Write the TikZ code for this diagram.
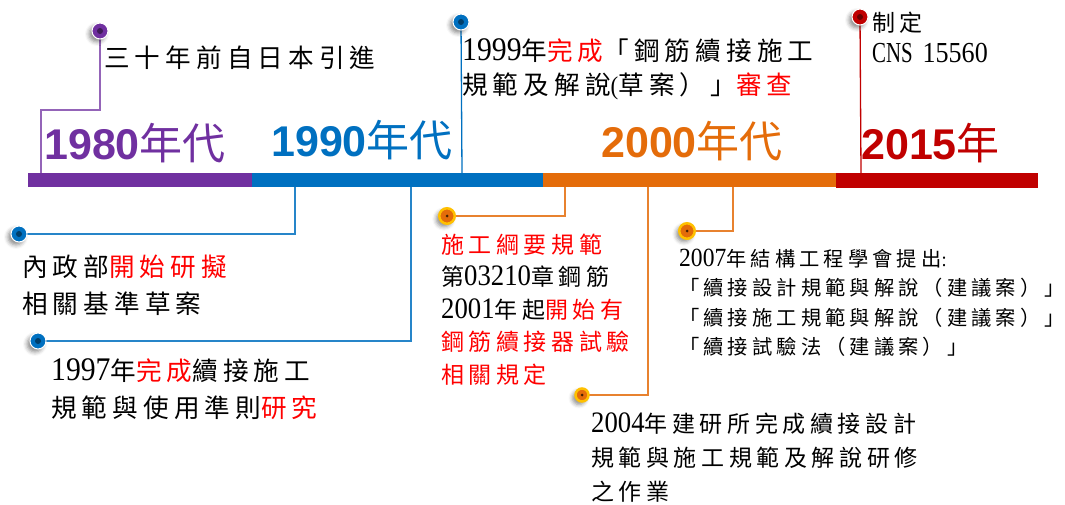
\documentclass[tikz,border=0pt]{standalone}
\usepackage{fontspec}
\setmainfont{Liberation Serif}
\newfontfamily\cjk[LetterSpace=20]{Noto Sans CJK TC}
\newfontfamily\cjkplain{Noto Sans CJK TC}
\newfontfamily\lat[FakeStretch=0.9]{Liberation Serif}
\newfontfamily\latc[FakeStretch=0.72]{Liberation Serif}
\newfontfamily\yearsans{Liberation Sans}
\usetikzlibrary{shadows.blur,backgrounds}
\definecolor{cpurple}{HTML}{7030A0}
\definecolor{cblue}{HTML}{0070C0}
\definecolor{corange}{HTML}{E46C0A}
\definecolor{cred}{HTML}{C00000}
\definecolor{cgold}{HTML}{FFC000}
\definecolor{hl}{HTML}{FF0000}
\newcommand\hi[1]{{\color{hl}#1}}
\newcommand\da[1]{{\fontsize{33}{33}\lat #1}}
\newcommand\db[1]{{\fontsize{29.7}{29.7}\lat #1}}
\newcommand\dc[1]{{\fontsize{26.2}{26.2}\lat #1}}
\begin{document}
\begin{tikzpicture}[x=1pt,y=-1pt,
  bar/.style={rectangle,inner sep=0pt,minimum height=14pt,draw=none},
  yearlbl/.style={anchor=base west,inner sep=0pt,font=\fontsize{43}{43}\selectfont},
  shd/.style={blur shadow={shadow xshift=-3pt,shadow yshift=-3pt,shadow blur radius=4pt,shadow opacity=45}},
  evdot/.style={circle,inner sep=0pt,minimum size=16pt,draw=white,line width=1pt,fill=#1,shd,
     path picture={\fill[black!45!#1] (path picture bounding box.center) circle (3);}},
  odot/.style={circle,inner sep=0pt,minimum size=#1,draw=cgold,line width=2.5pt,fill=corange,shd,
     path picture={\fill[black!70!corange] (path picture bounding box.center) circle (1.5);}},
  txtA/.style={anchor=base west,inner sep=0pt,align=left,font=\fontsize{25.6}{#1}\cjk},
  txtB/.style={anchor=base west,inner sep=0pt,align=left,font=\fontsize{23}{#1}\cjk},
  txtC/.style={anchor=base west,inner sep=0pt,align=left,font=\fontsize{20.3}{#1}\cjk},
  cline/.style={line width=1.3pt,draw=#1}
]
\useasboundingbox (0,0) rectangle (1065,505);
% timeline bars
\node[bar,fill=cpurple,minimum width=224pt] (bar1) at (140,180) {};
\node[bar,fill=cblue,minimum width=291pt] (bar2) at (397.5,180) {};
\node[bar,fill=corange,minimum width=293pt] (bar3) at (689.5,180) {};
\node[bar,fill=cred,minimum width=202pt,minimum height=15pt] (bar4) at (937,180.5) {};
% era labels
\node[yearlbl,text=cpurple] (y80) at (44,160) {{\yearsans\bfseries 1980}{\cjkplain 年代}};
\node[yearlbl,text=cblue] (y90) at (271,157) {{\yearsans\bfseries 1990}{\cjkplain 年代}};
\node[yearlbl,text=corange] (y00) at (601,158) {{\yearsans\bfseries 2000}{\cjkplain 年代}};
\node[yearlbl,text=cred] (y15) at (861,160) {{\yearsans\bfseries 2015}{\cjkplain 年}};
% connector ends on the bar
\coordinate (a1) at (41,173);
\coordinate (a2) at (462,173);
\coordinate (a3) at (861,173);
\coordinate (b1) at (295,187);
\coordinate (b2) at (411,187);
\coordinate (b3) at (565,187);
\coordinate (b4) at (648,187);
\coordinate (b5) at (733,187);
% event dots
\node[evdot=cpurple] (d1) at (100,31) {};
\node[evdot=cblue] (d2) at (461,22) {};
\node[evdot=cred] (d3) at (860,17) {};
\node[evdot=cblue] (d4) at (19,234) {};
\node[evdot=cblue] (d5) at (38,341) {};
\node[odot=15.5pt] (d6) at (447,216) {};
\node[odot=13pt] (d7) at (582,395) {};
\node[odot=15.5pt] (d8) at (687,231) {};
% connectors
\begin{pgfonlayer}{background}
\draw[cline=cpurple!75!white] (d1.center) -- ++(0,79) -| (a1);
\draw[cline=cblue] (d2.center) -- (a2);
\draw[cline=cred] (d3.center) -- (a3);
\draw[cline=cblue!85!white] (b1) |- (d4.center);
\draw[cline=cblue!85!white] (b2) |- (d5.center);
\draw[cline=corange!85!white] (b3) |- (d6.center);
\draw[cline=corange!85!white] (b4) |- (d7.center);
\draw[cline=corange!85!white] (b5) |- (d8.center);
\end{pgfonlayer}
% texts (anchored at the baseline of the last line)
\node[txtA=34] (t1) at (104,68) {三十年前自日本引進};
\node[txtA=34] (t2) at (462,95) {\da{1999}年\hi{完成}「鋼筋續接施工\\規範及解說{\lat (}草案）」\hi{審查}};
\node[txtB=31] (t3) at (872,63) {制定\\{\fontsize{29}{29}\latc CNS} {\fontsize{29}{29}\lat 15560}};
\node[txtA=37] (t4) at (22,313) {內政部\hi{開始研擬}\\相關基準草案};
\node[txtA=37] (t5) at (51,417) {\da{1997}年\hi{完成}續接施工\\規範與使用準則\hi{研究}};
\node[txtB=32.5] (t6) at (441,383) {\hi{施工綱要規範}\\第\db{03210}章鋼筋\\\db{2001}年起\hi{開始有}\\\hi{鋼筋續接器試驗}\\\hi{相關規定}};
\node[txtB=34] (t7) at (591,500) {\db{2004}年建研所完成續接設計\\規範與施工規範及解說研修\\之作業};
\node[txtC=29.5] (t8) at (679,354.5) {\dc{2007}年結構工程學會提出{\lat :}\\「續接設計規範與解說（建議案）」\\「續接施工規範與解說（建議案）」\\「續接試驗法（建議案）」};
\end{tikzpicture}
\end{document}
